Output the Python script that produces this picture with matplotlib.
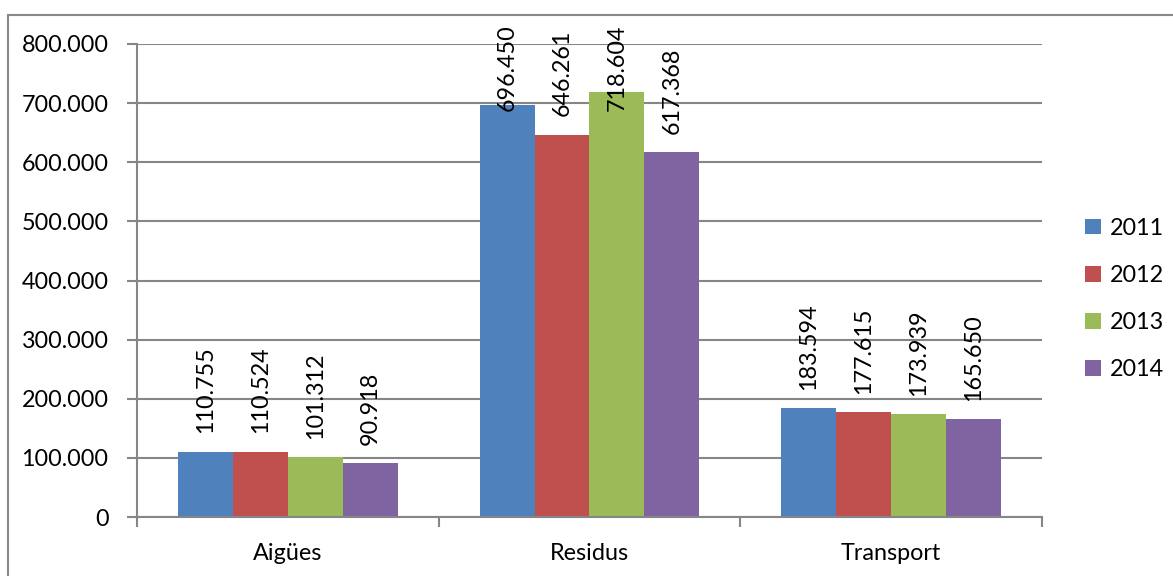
import matplotlib
matplotlib.use("Agg")
import matplotlib.pyplot as plt
from matplotlib.patches import Patch, Rectangle
import numpy as np

categories = ["Aigües", "Residus", "Transport"]
years = ["2011", "2012", "2013", "2014"]
values_2011 = [110755, 696450, 183594]
values_2012 = [110524, 646261, 177615]
values_2013 = [101312, 718604, 173939]
values_2014 = [90918, 617368, 165650]
series = [values_2011, values_2012, values_2013, values_2014]
colors = ["#4F81BD", "#C0504D", "#9BBB59", "#8064A2"]
yticks = [0, 100000, 200000, 300000, 400000, 500000, 600000, 700000, 800000]

plt.rcParams['font.family'] = ['Lato', 'DejaVu Sans']
FS = 16.8

def fmt(v):
    return f"{int(v):,}".replace(",", ".")

W, H = 1173, 576
fig = plt.figure(figsize=(W / 100, H / 100), dpi=100)
ax = fig.add_axes([137 / W, (H - 517) / H, (1042 - 137) / W, 473 / H])

grid_c = "#868686"
n = len(series)
gap = 1.5
bw = 1.0 / (n + gap)
x = np.arange(len(categories))
for i, (vals, c, yr) in enumerate(zip(series, colors, years)):
    pos = x - 0.5 + bw * (gap / 2) + bw * (i + 0.5)
    ax.bar(pos, vals, width=bw, color=c, label=yr, zorder=3, linewidth=0)

ax.set_xlim(-0.5, len(categories) - 0.5)
ax.set_ylim(0, 800000)
ax.set_yticks(yticks)
ax.set_yticklabels([fmt(v) for v in yticks], fontsize=FS)
ax.yaxis.grid(True, color=grid_c, linewidth=1.5, zorder=0)
ax.tick_params(axis='y', length=7, width=1.5, color=grid_c, pad=13.5)
ax.set_xticks(np.arange(len(categories) + 1) - 0.5)
ax.set_xticklabels([])
ax.set_xticks(x, minor=True)
ax.set_xticklabels(categories, minor=True, fontsize=FS)
ax.tick_params(axis='x', which='major', length=7, width=1.5, color=grid_c)
ax.tick_params(axis='x', which='minor', length=0, pad=18.5)
for s in ['top', 'right']:
    ax.spines[s].set_visible(False)
for s in ['left', 'bottom']:
    ax.spines[s].set_color(grid_c)
    ax.spines[s].set_linewidth(1.5)
    ax.spines[s].set_zorder(4)

# data labels
texts = []
for i, vals in enumerate(series):
    pos = x - 0.5 + bw * (gap / 2) + bw * (i + 0.5)
    for p, v in zip(pos, vals):
        t = ax.annotate(fmt(v), xy=(p, v), xytext=(0, 13.3), textcoords='offset points',
                        rotation=90, ha='center', va='bottom', fontsize=FS,
                        zorder=5, annotation_clip=False)
        texts.append(t)

fig.canvas.draw()
renderer = fig.canvas.get_renderer()
top_limit = H - 24  # display y (from bottom) of highest allowed label top
for t in texts:
    bb = t.get_window_extent(renderer)
    if bb.y1 > top_limit:
        shift = (bb.y1 - top_limit) * 72 / 100
        ox, oy = t.xyann
        t.xyann = (ox, oy - shift)

handles = [Patch(facecolor=c, edgecolor='none', label=y) for c, y in zip(colors, years)]
fig.legend(handles=handles, loc='center left', bbox_to_anchor=(1076 / W, (H - 299) / H),
           frameon=False, fontsize=FS, handlelength=0.65, handleheight=0.65,
           handletextpad=0.4, labelspacing=1.12, borderaxespad=0)

fig.patches.append(Rectangle((8 / W, -0.1), 1.2, (H - 14.5) / H + 0.1, transform=fig.transFigure,
                             fill=False, edgecolor="#888888", linewidth=1.5))

fig.savefig("out.png", dpi=100)
